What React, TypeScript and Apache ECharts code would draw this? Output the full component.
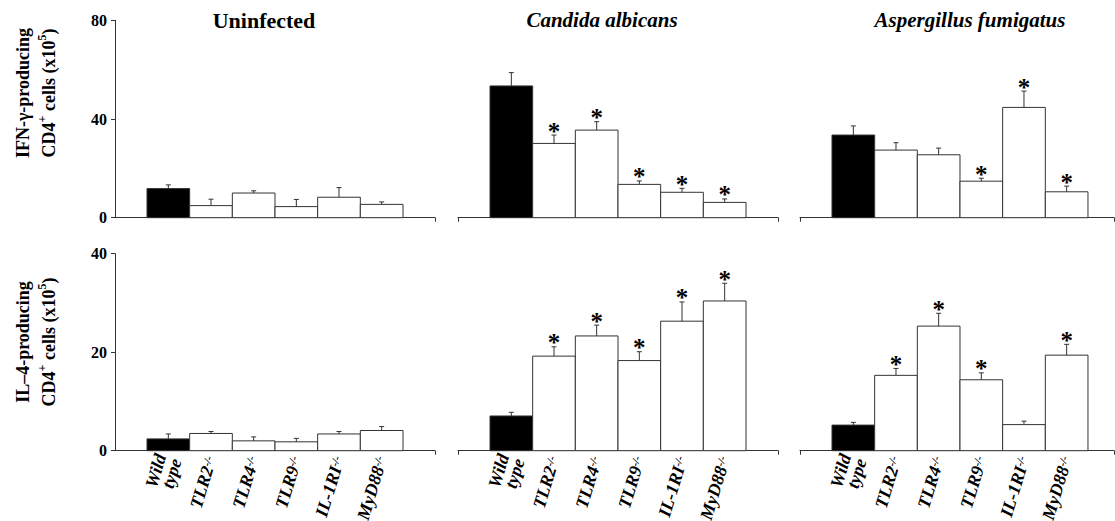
import React, { useEffect, useRef } from 'react';
import * as echarts from 'echarts';

// ---- data ----
const categories = ['Wild type', 'TLR2', 'TLR4', 'TLR9', 'IL-1RI', 'MyD88'];
const panelTitles = ['Uninfected', 'Candida albicans', 'Aspergillus fumigatus'];

const ifnTicks = [0, 40, 80];
const il4Ticks = [0, 20, 40];

const ifnUninfected = [11.8, 4.9, 10.0, 4.5, 8.3, 5.4];
const ifnUninfectedErr = [1.5, 2.6, 0.9, 2.9, 3.9, 1.0];
const ifnUninfectedSig = [false, false, false, false, false, false];

const ifnCandida = [53.4, 30.1, 35.5, 13.5, 10.3, 6.2];
const ifnCandidaErr = [5.4, 3.4, 3.4, 1.4, 1.6, 1.4];
const ifnCandidaSig = [false, true, true, true, true, true];

const ifnAspergillus = [33.5, 27.4, 25.5, 14.8, 44.7, 10.5];
const ifnAspergillusErr = [3.7, 3.0, 2.7, 1.2, 6.6, 2.3];
const ifnAspergillusSig = [false, false, false, true, true, true];

const il4Uninfected = [2.4, 3.5, 2.0, 1.8, 3.4, 4.1];
const il4UninfectedErr = [1.0, 0.4, 0.8, 0.7, 0.5, 0.8];
const il4UninfectedSig = [false, false, false, false, false, false];

const il4Candida = [7.05, 19.2, 23.3, 18.3, 26.3, 30.4];
const il4CandidaErr = [0.75, 1.9, 2.2, 1.8, 3.9, 3.6];
const il4CandidaSig = [false, true, true, true, true, true];

const il4Aspergillus = [5.2, 15.3, 25.3, 14.4, 5.3, 19.4];
const il4AspergillusErr = [0.55, 1.4, 2.6, 1.4, 0.7, 2.2];
const il4AspergillusSig = [false, true, true, true, false, true];

// ---- layout ----
const FONT = '"Liberation Serif", "Times New Roman", serif';
const INK = '#333';
const colLefts = [115, 458, 800];
const colWidths = [320, 320, 314];
const xMaxes = [6.25, 6.25, 6.11];
const rowTops = [20.3, 253.7];
const rowHeights = [197.4, 197];

const rows = [
  { ticks: ifnTicks, sets: [
    [ifnUninfected, ifnUninfectedErr, ifnUninfectedSig],
    [ifnCandida, ifnCandidaErr, ifnCandidaSig],
    [ifnAspergillus, ifnAspergillusErr, ifnAspergillusSig],
  ] },
  { ticks: il4Ticks, sets: [
    [il4Uninfected, il4UninfectedErr, il4UninfectedSig],
    [il4Candida, il4CandidaErr, il4CandidaSig],
    [il4Aspergillus, il4AspergillusErr, il4AspergillusSig],
  ] },
];

function labelFor(v: number): string {
  const i = Math.round(v);
  if (Math.abs(v - i) > 1e-6 || i < 0 || i >= categories.length) return '';
  if (i === 0) return '{a|Wild}\n{a|type}';
  return '{a|' + categories[i] + '}{s|-/-}';
}

function renderBar(params: any, api: any) {
  const x = api.value(0);
  const v = api.value(1);
  const e = api.value(2);
  const sig = api.value(3);
  const p0 = api.coord([x - 0.5, 0]);
  const p1 = api.coord([x + 0.5, v]);
  const cx = (p0[0] + p1[0]) / 2;
  const et = api.coord([x, v + e])[1];
  const children: any[] = [
    {
      type: 'rect',
      shape: { x: p0[0], y: p1[1], width: p1[0] - p0[0], height: p0[1] - p1[1] },
      style: { fill: x === 0 ? '#000' : '#fff', stroke: INK, lineWidth: 1 },
    },
    { type: 'line', shape: { x1: cx, y1: p1[1], x2: cx, y2: et }, style: { stroke: INK, lineWidth: 1 } },
    { type: 'line', shape: { x1: cx - 2.5, y1: et, x2: cx + 2.5, y2: et }, style: { stroke: INK, lineWidth: 1 } },
  ];
  if (sig) {
    children.push({
      type: 'text',
      x: cx,
      y: et - 4,
      style: {
        text: '*', fill: '#000', font: 'bold 25px ' + FONT,
        textAlign: 'center', textVerticalAlign: 'middle',
      },
    });
  }
  return { type: 'group', children };
}

export default function App() {
  const ref = useRef<HTMLDivElement>(null);
  useEffect(() => {
    if (!ref.current) return;
    const chart = echarts.init(ref.current, null, { renderer: 'svg' });
    const grid: any[] = [];
    const xAxis: any[] = [];
    const yAxis: any[] = [];
    const series: any[] = [];
    rows.forEach((row, r) => {
      row.sets.forEach((set, c) => {
        const gi = r * 3 + c;
        grid.push({
          left: colLefts[c], top: rowTops[r], width: colWidths[c], height: rowHeights[r],
          containLabel: false, outerBoundsMode: 'none',
        });
        xAxis.push({
          type: 'value', gridIndex: gi, min: -1.25, max: xMaxes[c], interval: 0.25,
          splitLine: { show: false },
          axisLine: { show: true, onZero: false, lineStyle: { color: INK, width: 1 } },
          axisTick: {
            show: true, customValues: c === 0 ? [xMaxes[c]] : [-1.25, xMaxes[c]],
            length: 4, lineStyle: { color: INK },
          },
          axisLabel: {
            show: r === 1, rotate: 73, margin: 6, formatter: labelFor,
            showMinLabel: true, showMaxLabel: true, hideOverlap: false,
            rich: {
              a: { fontFamily: FONT, fontSize: 18, fontWeight: 'bold', fontStyle: 'italic', color: '#000', lineHeight: 16 },
              s: { fontFamily: FONT, fontSize: 11, fontWeight: 'bold', fontStyle: 'italic', color: '#000', verticalAlign: 'top', lineHeight: 11 },
            },
          },
        });
        const ticks = row.ticks;
        yAxis.push({
          type: 'value', gridIndex: gi, min: ticks[0], max: ticks[ticks.length - 1],
          interval: ticks[1] - ticks[0],
          splitLine: { show: false },
          axisLine: { show: c === 0, onZero: false, lineStyle: { color: INK, width: 1 } },
          axisTick: { show: c === 0, length: 4, lineStyle: { color: INK } },
          axisLabel: {
            show: c === 0, margin: 8, color: '#000',
            fontFamily: FONT, fontSize: 16, fontWeight: 'bold',
          },
        });
        const data = set[0].map((v: any, i: number) => [i, v, (set[1] as number[])[i], (set[2] as boolean[])[i] ? 1 : 0]);
        series.push({
          type: 'custom', xAxisIndex: gi, yAxisIndex: gi, renderItem: renderBar,
          data, clip: false, silent: true,
        });
      });
    });

    const titleX = [264, 602, 970];
    const graphic: any[] = panelTitles.map((t, i) => ({
      type: 'text', x: titleX[i], y: 20,
      style: {
        text: t, fill: '#000',
        font: (i === 0 ? 'bold 22px ' : 'italic bold 21px ') + FONT,
        textAlign: 'center', textVerticalAlign: 'middle',
      },
    }));
    const yTitles = [
      { y: 93, first: 'IFN-γ-producing' },
      { y: 342, first: 'IL–4-producing' },
    ];
    yTitles.forEach((yt) => {
      graphic.push({
        type: 'text', x: 36, y: yt.y, rotation: Math.PI / 2,
        style: {
          text: '{a|' + yt.first + '}\n{a|CD4}{s|+}{a| cells (x10}{s|5}{a|)}',
          textAlign: 'center', textVerticalAlign: 'middle', fill: '#000',
          rich: {
            a: { fontFamily: FONT, fontSize: 18, fontWeight: 'bold', color: '#000', lineHeight: 26 },
            s: { fontFamily: FONT, fontSize: 12, fontWeight: 'bold', color: '#000', lineHeight: 16, verticalAlign: 'top' },
          },
        },
      });
    });

    chart.setOption({
      animation: false,
      backgroundColor: '#fff',
      grid, xAxis, yAxis, series, graphic,
    });
    return () => chart.dispose();
  }, []);
  return <div ref={ref} style={{ position: 'fixed', left: 0, top: 0, width: 1115, height: 521 }} />;
}
